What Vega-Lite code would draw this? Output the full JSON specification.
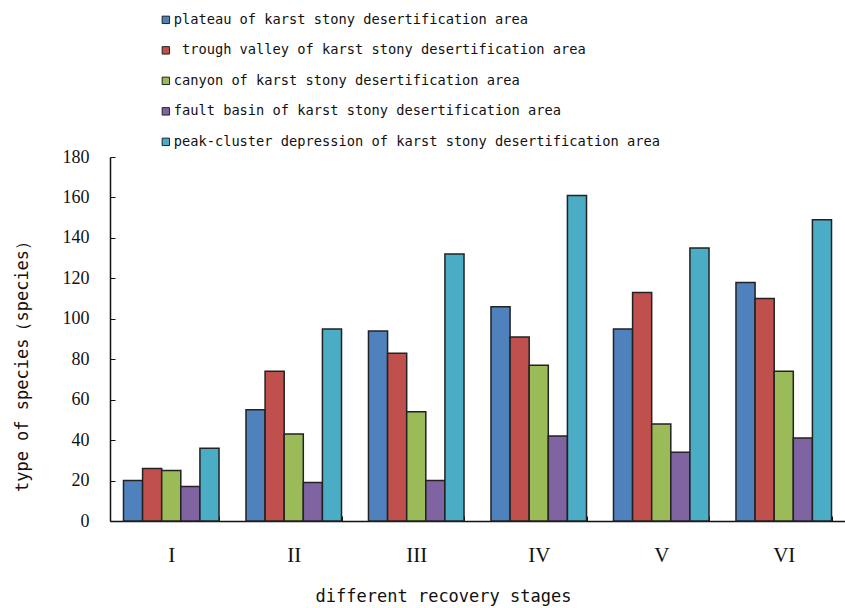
{
  "$schema": "https://vega.github.io/schema/vega-lite/v6.json",
  "width": 735,
  "height": 364,
  "autosize": "none",
  "padding": {"left": 110, "top": 157, "right": 0, "bottom": 87},
  "background": "white",
  "data": {
    "values": [
      {"stage": "I", "area": "plateau", "value": 20},
      {"stage": "I", "area": "trough", "value": 26},
      {"stage": "I", "area": "canyon", "value": 25},
      {"stage": "I", "area": "fault", "value": 17},
      {"stage": "I", "area": "peak", "value": 36},
      {"stage": "II", "area": "plateau", "value": 55},
      {"stage": "II", "area": "trough", "value": 74},
      {"stage": "II", "area": "canyon", "value": 43},
      {"stage": "II", "area": "fault", "value": 19},
      {"stage": "II", "area": "peak", "value": 95},
      {"stage": "III", "area": "plateau", "value": 94},
      {"stage": "III", "area": "trough", "value": 83},
      {"stage": "III", "area": "canyon", "value": 54},
      {"stage": "III", "area": "fault", "value": 20},
      {"stage": "III", "area": "peak", "value": 132},
      {"stage": "IV", "area": "plateau", "value": 106},
      {"stage": "IV", "area": "trough", "value": 91},
      {"stage": "IV", "area": "canyon", "value": 77},
      {"stage": "IV", "area": "fault", "value": 42},
      {"stage": "IV", "area": "peak", "value": 161},
      {"stage": "V", "area": "plateau", "value": 95},
      {"stage": "V", "area": "trough", "value": 113},
      {"stage": "V", "area": "canyon", "value": 48},
      {"stage": "V", "area": "fault", "value": 34},
      {"stage": "V", "area": "peak", "value": 135},
      {"stage": "VI", "area": "plateau", "value": 118},
      {"stage": "VI", "area": "trough", "value": 110},
      {"stage": "VI", "area": "canyon", "value": 74},
      {"stage": "VI", "area": "fault", "value": 41},
      {"stage": "VI", "area": "peak", "value": 149}
    ]
  },
  "mark": {"type": "bar", "stroke": "#222222", "strokeWidth": 1.5},
  "encoding": {
    "x": {
      "field": "stage",
      "type": "nominal",
      "sort": ["I", "II", "III", "IV", "V", "VI"],
      "scale": {"paddingInner": 0.22, "paddingOuter": 0.11},
      "axis": {
        "title": "different recovery stages",
        "titleFont": "DejaVu Sans Mono",
        "titleFontSize": 17,
        "titleFontWeight": "normal",
        "titleColor": "#111",
        "titleX": 333,
        "titleY": 75,
        "titleBaseline": "middle",
        "labelAngle": 0,
        "labelFont": "Liberation Serif",
        "labelFontSize": 21,
        "labelColor": "#111",
        "labelBaseline": "middle",
        "labelPadding": 39,
        "tickBand": "extent",
        "tickSize": -5,
        "tickColor": "#111",
        "domainColor": "#111",
        "domainWidth": 1.5
      }
    },
    "xOffset": {
      "field": "area",
      "type": "nominal",
      "sort": ["plateau", "trough", "canyon", "fault", "peak"],
      "scale": {"paddingInner": 0, "paddingOuter": 0}
    },
    "y": {
      "field": "value",
      "type": "quantitative",
      "scale": {"domain": [0, 180], "nice": false},
      "axis": {
        "title": "type of species（species）",
        "titleFont": "DejaVu Sans Mono",
        "titleFontSize": 17,
        "titleFontWeight": "normal",
        "titleColor": "#111",
        "titleX": -88,
        "titleY": 205,
        "titleAlign": "center",
        "titleBaseline": "middle",
        "values": [0, 20, 40, 60, 80, 100, 120, 140, 160, 180],
        "grid": false,
        "labelFont": "Liberation Serif",
        "labelFontSize": 18,
        "labelColor": "#111",
        "labelPadding": 26,
        "tickSize": -5,
        "tickColor": "#111",
        "domainColor": "#111",
        "domainWidth": 1.5
      }
    },
    "color": {
      "field": "area",
      "type": "nominal",
      "sort": ["plateau", "trough", "canyon", "fault", "peak"],
      "scale": {
        "domain": ["plateau", "trough", "canyon", "fault", "peak"],
        "range": ["#4F81BD", "#C0504D", "#9BBB59", "#8064A2", "#4BACC6"]
      },
      "legend": {
        "orient": "none",
        "legendX": 49,
        "legendY": -144,
        "title": null,
        "labelExpr": "datum.value == 'plateau' ? 'plateau of karst stony desertification area' : datum.value == 'trough' ? '\u200b\u00a0trough valley of karst stony desertification area' : datum.value == 'canyon' ? 'canyon of karst stony desertification area' : datum.value == 'fault' ? 'fault basin of karst stony desertification area' : 'peak-cluster depression of karst stony desertification area'",
        "labelFont": "DejaVu Sans Mono",
        "labelFontSize": 13.7,
        "labelColor": "#111",
        "labelLimit": 700,
        "labelOffset": 1,
        "symbolType": "square",
        "symbolSize": 55,
        "symbolStrokeColor": "#222",
        "symbolStrokeWidth": 1,
        "rowPadding": 15.5
      }
    }
  },
  "config": {"view": {"stroke": null}}
}
